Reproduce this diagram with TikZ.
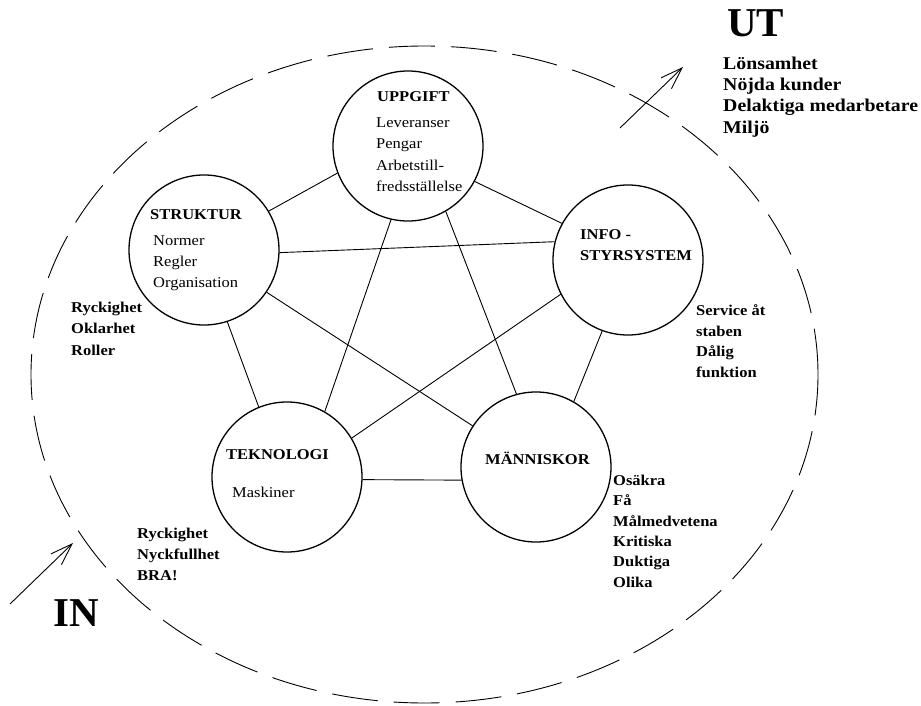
\documentclass[tikz,border=0pt]{standalone}
\usepackage{fontspec}
\setmainfont[FakeStretch=1.1]{Liberation Serif}
\newfontfamily\bigtitle{Liberation Serif}
\usetikzlibrary{arrows.meta}

\begin{document}
\begin{tikzpicture}[x=1pt,y=-1pt,
		circ/.style={draw,circle,minimum size=150pt,inner sep=0pt,line width=1.3pt},
		conn/.style={line width=0.9pt},
		txt/.style={anchor=north west,inner sep=0pt,align=left,font=\fontsize{15}{21}\selectfont},
		head/.style={txt,font=\fontsize{15}{21}\selectfont\bfseries},
		note/.style={txt,font=\fontsize{15}{21}\selectfont\bfseries},
		big/.style={anchor=north west,inner sep=0pt,font=\bigtitle\bfseries\fontsize{41}{45}\selectfont},
		pil/.style={line width=0.9pt,-{Straight Barb[length=22pt,width=15pt]}}]
					\useasboundingbox (0,0) rectangle (921,706);
					\coordinate (mid) at (424.5,374.5);
					\draw[line width=0.9pt,dash pattern=on 46pt off 16pt] (mid) ellipse [x radius=393.5pt,y radius=328.5pt];
					\node[circ] (upp) at (408,146) {};
					\node[circ] (str) at (204,250) {};
					\node[circ] (info) at (628,260) {};
					\node[circ] (tek) at (287,477) {};
					\node[circ] (man) at (536,467) {};
					\draw[conn] (str.31) -- (upp.201);
					\draw[conn] (upp.332) -- (info.151);
					\draw[conn] (str.358) -- (info.166);
					\draw[conn] (str.326) -- (man.147);
					\draw[conn] (str.288) -- (tek.112);
					\draw[conn] (upp.257) -- (tek.60);
					\draw[conn] (upp.300) -- (man.105);
					\draw[conn] (info.207) -- (tek.31);
					\draw[conn] (info.250) -- (man.60);
					\draw[conn] (tek.358) -- (man.190);
					\node[head] (uppT) at (377,91.6) {UPPGIFT};
					\node[txt,font=\fontsize{15}{21.3}\selectfont] (uppL) at (376,117.6) {Leveranser\\Pengar\\Arbetstill-\\fredsställelse};
					\node[head] (strT) at (150,209.6) {STRUKTUR};
					\node[txt] (strL) at (153,235.6) {Normer\\Regler\\Organisation};
					\node[head] (infoT) at (580,229.6) {INFO -\\STYRSYSTEM};
					\node[head] (tekT) at (226,449.6) {TEKNOLOGI};
					\node[txt] (tekL) at (232,486.6) {Maskiner};
					\node[head] (manT) at (485,452) {MÄNNISKOR};
					\node[note,font=\fontsize{15}{21.5}\selectfont\bfseries] (strN) at (71,301.6) {Ryckighet\\Oklarhet\\Roller};
					\node[note,font=\fontsize{15}{20.5}\selectfont\bfseries] (infoN) at (696,304.6) {Service åt\\staben\\Dålig\\funktion};
					\node[note,font=\fontsize{15}{20.4}\selectfont\bfseries] (manN) at (613,474.6) {Osäkra\\Få\\Målmedvetena\\Kritiska\\Duktiga\\Olika};
					\node[note] (tekN) at (137,527.6) {Ryckighet\\Nyckfullhet\\BRA!};
					\node[note,font=\fontsize{18}{21.3}\selectfont\bfseries] (utN) at (723,56.5) {Lönsamhet\\Nöjda kunder\\Delaktiga medarbetare\\Miljö};
					\node[big] (ut) at (727,9) {UT};
					\node[big] (in) at (53,599) {IN};
					\coordinate (inA) at (10,604);
					\coordinate (inB) at (73,543);
					\coordinate (utA) at (620,128);
					\coordinate (utB) at (683,67);
					\draw[pil] (inA) -- (inB);
					\draw[pil] (utA) -- (utB);
\end{tikzpicture}
\end{document}
